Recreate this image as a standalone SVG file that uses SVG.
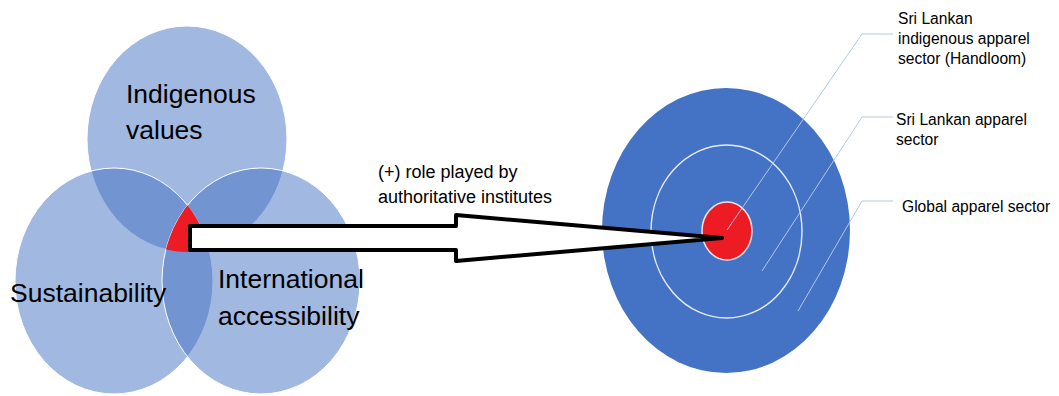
<svg xmlns="http://www.w3.org/2000/svg" width="1059" height="396" viewBox="0 0 1059 396">
<style>
.venn{fill:#4472C4;fill-opacity:0.5;stroke:#ffffff;stroke-width:1}
.big{font-family:"Liberation Sans",Arial,sans-serif;font-size:26.5px;fill:#000}
.mid{font-family:"Liberation Sans",Arial,sans-serif;font-size:18px;fill:#000}
.lab{font-family:"Liberation Sans",Arial,sans-serif;font-size:15.6px;fill:#000}
.lead{fill:none;stroke:#B4C7E7;stroke-width:1}
</style>
<defs>
<clipPath id="clipL"><ellipse cx="114" cy="281" rx="99" ry="113"/></clipPath>
<clipPath id="clipR"><ellipse cx="261" cy="281" rx="99" ry="113"/></clipPath>
</defs>
<rect x="0" y="0" width="1059" height="396" fill="#ffffff"/>
<g id="venn-indigenous">
<ellipse class="venn" cx="187" cy="139" rx="100" ry="113"/>
<text class="big" x="126" y="103">Indigenous</text>
<text class="big" x="126" y="139">values</text>
</g>
<g id="venn-sustainability">
<ellipse class="venn" cx="114" cy="281" rx="99" ry="113"/>
</g>
<g id="venn-international">
<ellipse class="venn" cx="261" cy="281" rx="99" ry="113"/>
</g>
<g id="venn-core">
<g clip-path="url(#clipL)"><g clip-path="url(#clipR)">
<ellipse cx="187" cy="139" rx="100" ry="113" fill="#ED1C24"/>
</g></g>
</g>
<g id="venn-labels">
<text class="big" x="10" y="302">Sustainability</text>
<text class="big" x="218" y="288">International</text>
<text class="big" x="218" y="325">accessibility</text>
</g>
<g id="target">
<ellipse cx="726" cy="230.5" rx="124" ry="142.5" fill="#4472C4"/>
<ellipse cx="726.5" cy="231.5" rx="75.5" ry="86.5" fill="none" stroke="#ffffff" stroke-opacity="0.85" stroke-width="1.5"/>
<ellipse cx="727" cy="231" rx="25" ry="29" fill="#ED1C24" stroke="#ffffff" stroke-opacity="0.85" stroke-width="1.5"/>
</g>
<g id="connectors">
<polygon points="190,226 456,226 456,215 722,238 456,261 456,250 190,250" fill="#ffffff" stroke="#000000" stroke-width="4" stroke-linejoin="round"/>
<polyline class="lead" points="727,230 862,34 893,34"/>
<polyline class="lead" points="762,271 862,117 893,117"/>
<polyline class="lead" points="798,311 862,201 893,201"/>
</g>
<g id="arrow-label">
<text class="mid" x="378" y="178">(+) role played by</text>
<text class="mid" x="378" y="203">authoritative institutes</text>
</g>
<g id="label-handloom">
<text class="lab" x="898" y="24">Sri Lankan</text>
<text class="lab" x="898" y="44">indigenous apparel</text>
<text class="lab" x="898" y="64">sector (Handloom)</text>
</g>
<g id="label-srilankan">
<text class="lab" x="896" y="125">Sri Lankan apparel</text>
<text class="lab" x="896" y="145">sector</text>
</g>
<g id="label-global">
<text class="lab" x="902" y="212">Global apparel sector</text>
</g>
</svg>
